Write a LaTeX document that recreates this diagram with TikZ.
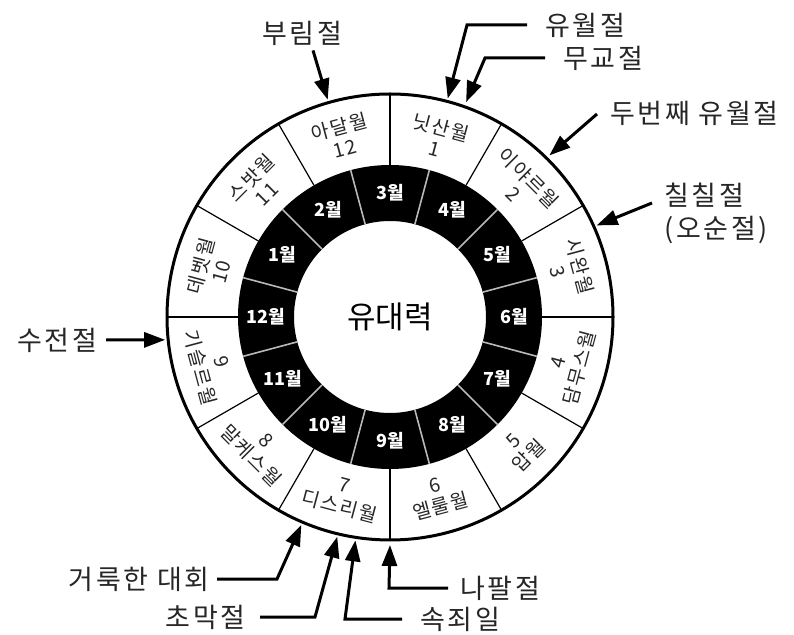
\documentclass[tikz,border=0pt]{standalone}
\usepackage{fontspec}
\setmainfont{Noto Sans CJK KR}
\newfontfamily\annfont{Noto Sans CJK KR}[LetterSpace=10]
\newfontfamily\rngfont{Noto Sans CJK KR}[LetterSpace=8]
\usetikzlibrary{arrows.meta,calc}
\begin{document}
\begin{tikzpicture}[x=1pt,y=1pt,
  arr/.style={line width=3pt,-{Triangle[length=21pt,width=15pt]}},
  ann/.style={font=\annfont\fontsize{27}{33}\selectfont, inner sep=0pt, text=black!85},
  ringtxt/.style={font=\rngfont\fontsize{19.5}{22}\selectfont, align=center, inner sep=0pt, text=black!85},
  mon/.style={font=\bfseries\fontsize{18}{20}\selectfont, text=white, inner sep=0pt}]
\useasboundingbox (0,0) rectangle (794,634);
\coordinate (C) at (390,317);
% rings
\fill[black,even odd rule] (C) circle (152pt) (C) circle (96pt);
\foreach \a in {15,45,...,345}
  \draw[gray!55,line width=1.6pt] ($(C)+(\a:96pt)$) -- ($(C)+(\a:152pt)$);
\foreach \a in {0,30,...,330}
  \draw[line width=1.2pt] ($(C)+(\a:152pt)$) -- ($(C)+(\a:223pt)$);
\draw[line width=3pt] (C) circle (223pt);
% centre
\node[font=\fontsize{31}{33}\selectfont, inner sep=0pt] (ctr) at (C) {유대력};
% black ring months
\foreach \k/\a in {3/90,4/60,5/30,6/0,7/-30,8/-60,9/-90,10/-120,11/-150,12/180,1/150,2/120}
  \node[mon] (m\k) at ($(C)+(\a:124pt)$) {\k{}월};
% outer ring months
\foreach \n/\nm/\a in {1/닛산월/75,2/이야르월/45,3/시완월/15,10/데벳월/165,11/스밧월/135,12/아달월/105}
  \node[ringtxt, rotate=\a-90] (h\n) at ($(C)+(\a:186pt)$) {\nm\\\n};
\foreach \n/\nm/\a in {4/담무스월/-15,5/압월/-45,6/엘룰월/-75,7/디스리월/-105,8/말케스월/-135,9/기슬르월/-165}
  \node[ringtxt, rotate=\a+90] (h\n) at ($(C)+(\a:186pt)$) {\n\\\nm};
% arrow tips on the circle
\coordinate (purimT) at ($(C)+(106:226pt)$);
\coordinate (passT) at ($(C)+(75.2:226pt)$);
\coordinate (ulT) at ($(C)+(70.5:228pt)$);
\coordinate (p2T) at ($(C)+(45.4:227pt)$);
\coordinate (chilT) at ($(C)+(23.9:226pt)$);
\coordinate (suT) at ($(C)+(185.8:226pt)$);
\coordinate (hcT) at ($(C)+(246.9:226pt)$);
\coordinate (chT) at ($(C)+(256.5:226pt)$);
\coordinate (sjT) at ($(C)+(261.2:226pt)$);
\coordinate (npT) at ($(C)+(270:228pt)$);
% annotations
\node[ann] (purim) at (302,601) {부림절};
\draw[arr] ([shift={(11pt,-5pt)}]purim.south) -- (purimT);

\node[ann,anchor=west] (pass) at (545,609) {유월절};
\draw[arr] ([xshift=-18pt]pass.west) -- ++(-60pt,0) -- (passT);

\node[ann,anchor=west] (ul) at (563,576) {무교절};
\draw[arr] ([xshift=-18pt]ul.west) -- ++(-60pt,0) -- (ulT);

\node[ann,anchor=west] (p2) at (610,521) {두번째 유월절};
\draw[arr] ([shift={(-13pt,-1pt)}]p2.west) -- (p2T);

\node[ann,anchor=west,align=left] (chil) at (664,421) {칠칠절\\(오순절)};
\draw[arr] ([shift={(-12pt,10pt)}]chil.west) -- (chilT);

\node[ann] (su) at (57,294) {수전절};
\draw[arr] ([xshift=9pt]su.east) -- (suT);

\node[ann,anchor=east] (hc) at (210,55) {거룩한 대회};
\draw[arr] ([xshift=7pt]hc.east) -- ++(60pt,0) -- (hcT);

\node[ann,anchor=east] (ch) at (246,17) {초막절};
\draw[arr] ([xshift=14pt]ch.east) -- ++(55pt,0) -- (chT);

\node[ann,anchor=west] (sj) at (420,15) {속죄일};
\draw[arr] ([xshift=-18pt]sj.west) -- ++(-57pt,0) -- (sjT);

\node[ann,anchor=west] (np) at (460,46) {나팔절};
\draw[arr] ([xshift=-12pt]np.west) -- ++(-59pt,0) -- (npT);
\end{tikzpicture}
\end{document}
